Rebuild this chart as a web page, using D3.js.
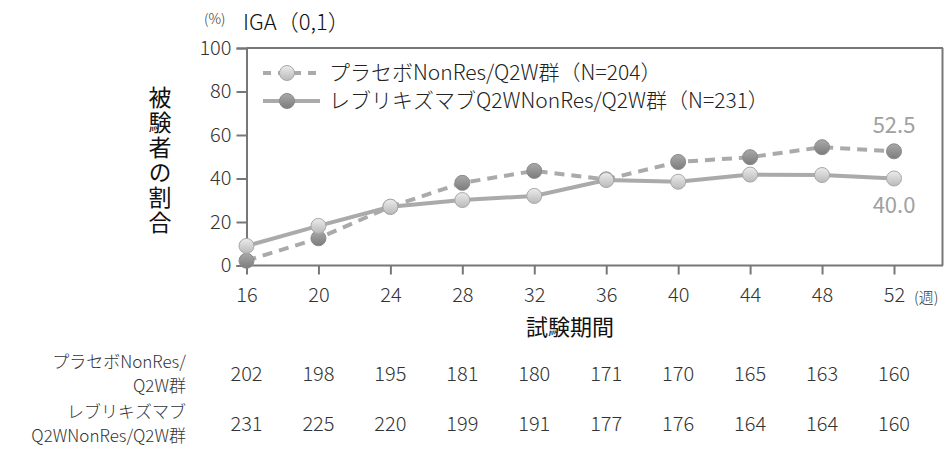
<!DOCTYPE html>
<html>
<head>
<meta charset="utf-8">
<script src="https://cdn.jsdelivr.net/npm/d3@7"></script>
<style>
  html, body { margin: 0; padding: 0; background: #fff; }
  svg { display: block; font-family: "Noto Sans CJK JP", "Noto Sans", sans-serif; font-weight: 300; }
</style>
</head>
<body>
<svg id="chart" width="946" height="450"></svg>
<script>
// Weeks on the x axis
const weeks = [16, 20, 24, 28, 32, 36, 40, 44, 48, 52];
const yTicks = [0, 20, 40, 60, 80, 100];

// Proportion of patients achieving IGA (0,1), %
const seriesDashed = [2.2, 12.5, 27.0, 38.0, 43.5, 39.6, 47.6, 49.8, 54.4, 52.5];
const seriesSolid  = [9.0, 18.2, 27.0, 30.1, 32.0, 39.3, 38.5, 41.8, 41.6, 40.0];

// Legend entries
const legendLabels = ["プラセボNonRes/Q2W群（N=204）", "レブリキズマブQ2WNonRes/Q2W群（N=231）"];

// Number of patients at risk
const atRiskPlacebo = [202, 198, 195, 181, 180, 171, 170, 165, 163, 160];
const atRiskLebri   = [231, 225, 220, 199, 191, 177, 176, 164, 164, 160];
const atRiskLabels  = [["プラセボNonRes/", "Q2W群"], ["レブリキズマブ", "Q2WNonRes/Q2W群"]];

const yTitle = "被験者の割合";
const xTitle = "試験期間";

const svg = d3.select("#chart");

const x = d3.scaleLinear().domain([16, 52]).range([246.5, 894]);
const y = d3.scaleLinear().domain([0, 100]).range([265.5, 48]);

const axisColor = "#777";
const lineColor = "#aaaaaa";
const textColor = "#333";

// Gradients for the marker fills
const defs = svg.append("defs");
function grad(id, c1, c2) {
  const g = defs.append("linearGradient").attr("id", id)
    .attr("x1", 0).attr("y1", 0).attr("x2", 0).attr("y2", 1);
  g.append("stop").attr("offset", "0%").attr("stop-color", c1);
  g.append("stop").attr("offset", "100%").attr("stop-color", c2);
}
grad("gLight", "#ececec", "#b9b9b9");
grad("gDark", "#a9a9a9", "#7c7c7c");

// Frame: top, right and bottom edges
svg.append("line").attr("x1", 246.5).attr("x2", 943).attr("y1", y(100)).attr("y2", y(100))
  .attr("stroke", axisColor).attr("stroke-width", 2);
svg.append("line").attr("x1", 942.5).attr("x2", 942.5).attr("y1", y(100)).attr("y2", y(0))
  .attr("stroke", axisColor).attr("stroke-width", 2);
svg.append("line").attr("x1", 246.5).attr("x2", 943).attr("y1", y(0)).attr("y2", y(0))
  .attr("stroke", axisColor).attr("stroke-width", 2);

// Y axis
const yAxis = svg.append("g").attr("transform", "translate(246.5,0)")
  .call(d3.axisLeft(y).tickValues(yTicks).tickSize(10).tickPadding(5));
yAxis.select(".domain").attr("stroke", axisColor).attr("stroke-width", 2);
yAxis.selectAll(".tick line").attr("stroke", axisColor).attr("stroke-width", 2);
yAxis.selectAll(".tick text").attr("fill", textColor).attr("font-size", 20)
  .attr("font-family", "Noto Sans CJK JP");

// X axis
const xAxis = svg.append("g").attr("transform", `translate(0,${y(0)})`)
  .call(d3.axisBottom(x).tickValues(weeks).tickSize(9).tickPadding(13));
xAxis.select(".domain").remove();
xAxis.selectAll(".tick line").attr("stroke", axisColor).attr("stroke-width", 2);
xAxis.selectAll(".tick text").attr("fill", textColor).attr("font-size", 20)
  .attr("font-family", "Noto Sans CJK JP");

svg.append("text").attr("x", 914).attr("y", 303).attr("font-size", 15)
  .attr("fill", textColor).attr("text-anchor", "start").text("(週)");

// Titles
svg.append("text").attr("x", 204).attr("y", 24).attr("font-size", 14).attr("fill", textColor).text("(%)");
svg.append("text").attr("x", 243).attr("y", 30).attr("font-size", 22).attr("fill", "#111").text("IGA（0,1）");

svg.append("text")
  .attr("transform", "translate(160,86)")
  .style("writing-mode", "vertical-rl")
  .attr("letter-spacing", 2)
  .attr("font-size", 23).attr("font-weight", 400).attr("fill", "#111").text(yTitle);

svg.append("text").attr("x", 570).attr("y", 335).attr("text-anchor", "middle")
  .attr("font-size", 22).attr("font-weight", 400).attr("fill", "#111").text(xTitle);

// Lines
const line = d3.line().x((d, i) => x(weeks[i])).y(d => y(d));
svg.append("path").datum(seriesDashed).attr("d", line).attr("fill", "none")
  .attr("stroke", lineColor).attr("stroke-width", 4).attr("stroke-dasharray", "10,7");
svg.append("path").datum(seriesSolid).attr("d", line).attr("fill", "none")
  .attr("stroke", lineColor).attr("stroke-width", 4);

// Markers
function markers(data, fill, stroke) {
  svg.append("g").selectAll("circle").data(data).join("circle")
    .attr("cx", (d, i) => x(weeks[i])).attr("cy", d => y(d)).attr("r", 7.5)
    .attr("fill", fill).attr("stroke", stroke).attr("stroke-width", 1);
}
markers(seriesDashed, "url(#gDark)", "#8a8a8a");
markers(seriesSolid, "url(#gLight)", "#a8a8a8");

// End-point value labels
const last = weeks.length - 1;
svg.append("text").attr("x", x(weeks[last])).attr("y", y(seriesDashed[last]) - 18)
  .attr("text-anchor", "middle").attr("font-size", 22).attr("font-weight", 400).attr("fill", "#a0a0a0")
  .text(seriesDashed[last].toFixed(1));
svg.append("text").attr("x", x(weeks[last])).attr("y", y(seriesSolid[last]) + 34)
  .attr("text-anchor", "middle").attr("font-size", 22).attr("font-weight", 400).attr("fill", "#a0a0a0")
  .text(seriesSolid[last].toFixed(1));

// Legend
const legendRows = [
  { label: legendLabels[0], dash: "8,7", fill: "url(#gLight)", stroke: "#a8a8a8", y: 73 },
  { label: legendLabels[1], dash: null, fill: "url(#gDark)", stroke: "#8a8a8a", y: 101 }
];
legendRows.forEach(r => {
  svg.append("line").attr("x1", 263).attr("x2", 320).attr("y1", r.y).attr("y2", r.y)
    .attr("stroke", lineColor).attr("stroke-width", 4).attr("stroke-dasharray", r.dash);
  svg.append("circle").attr("cx", 287).attr("cy", r.y).attr("r", 7.5)
    .attr("fill", r.fill).attr("stroke", r.stroke);
  svg.append("text").attr("x", 329).attr("y", r.y + 7).attr("font-size", 21)
    .attr("fill", "#222").text(r.label);
});

// At-risk table
const tableRows = [
  { values: atRiskPlacebo, labels: atRiskLabels[0], y: 374 },
  { values: atRiskLebri, labels: atRiskLabels[1], y: 424 }
];
tableRows.forEach(r => {
  svg.append("g").selectAll("text").data(r.values).join("text")
    .attr("x", (d, i) => x(weeks[i])).attr("y", r.y + 7)
    .attr("text-anchor", "middle").attr("font-size", 20).attr("fill", textColor).text(d => d);
  r.labels.forEach((t, j) => {
    svg.append("text").attr("x", 186).attr("y", r.y - 6 + j * 24)
      .attr("text-anchor", "end").attr("font-size", 17).attr("fill", textColor).text(t);
  });
});
</script>
</body>
</html>
